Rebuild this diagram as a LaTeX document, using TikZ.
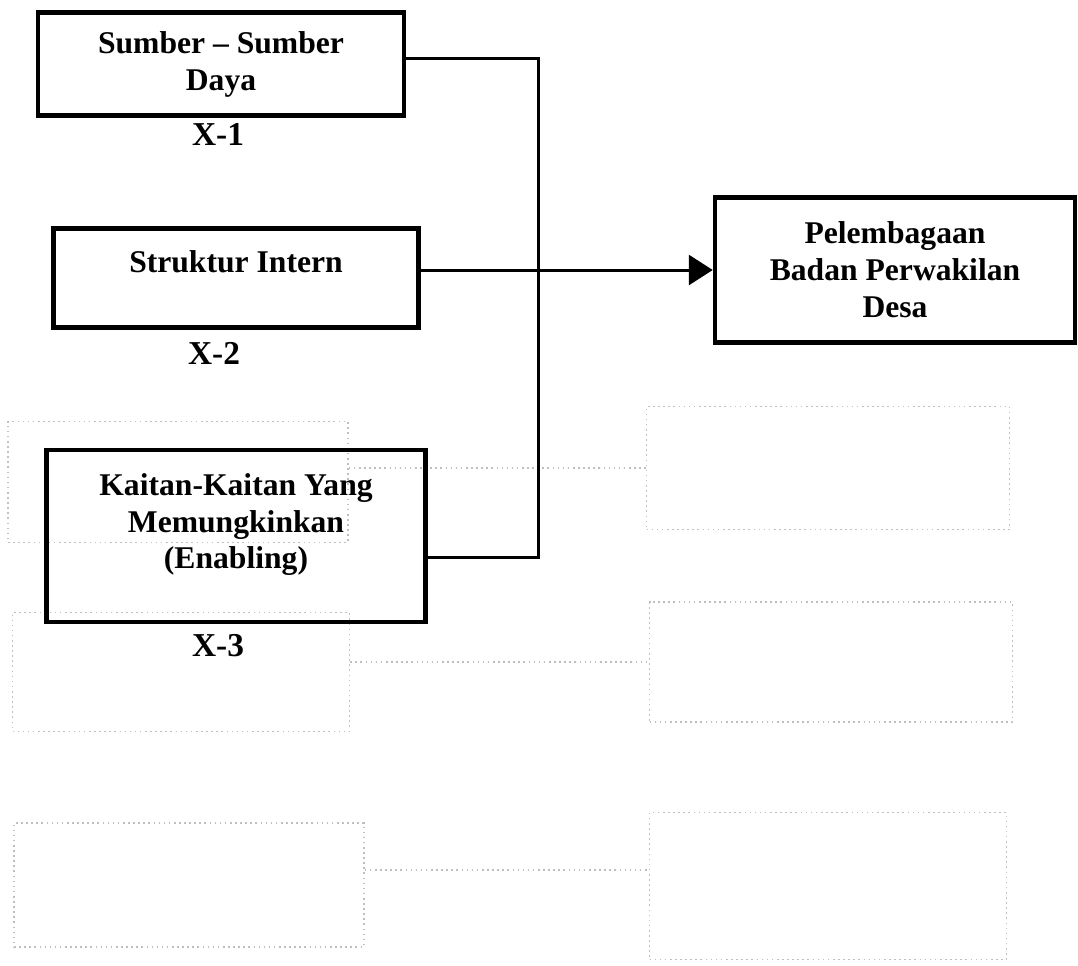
\documentclass[tikz,border=0pt]{standalone}
\usepackage{fontspec}
\setmainfont{Liberation Serif}
\usetikzlibrary{arrows.meta}
\begin{document}
\begin{tikzpicture}[x=0.02cm,y=-0.02cm,
  faktor/.style={draw,line width=2.6pt,align=center,font=\bfseries\fontsize{18}{21}\selectfont,inner sep=0pt},
  kode/.style={font=\bfseries\fontsize{19}{21}\selectfont},
  link/.style={line width=1.7pt},
  ghost/.style={draw=black!25,dotted,line width=0.9pt},
  ghostlink/.style={black!25,dotted,line width=0.9pt}]
  \useasboundingbox (0,0) rectangle (1078,965);
  % bayangan halaman sebalik
  \node[ghost,minimum width=6.8cm,minimum height=2.42cm] (ga) at (178,482) {};
  \node[ghost,minimum width=7.26cm,minimum height=2.46cm] (gc) at (828,468) {};
  \node[ghost,minimum width=6.74cm,minimum height=2.38cm] (gb) at (181,672) {};
  \node[ghost,minimum width=7.26cm,minimum height=2.4cm] (gd) at (831,662) {};
  \node[ghost,minimum width=7.0cm,minimum height=2.48cm] (ge) at (189,885) {};
  \node[ghost,minimum width=7.14cm,minimum height=2.94cm] (gf) at (828,886) {};
  \draw[ghostlink] (gc.west -| ga.east) -- (gc.west);
  \draw[ghostlink] ([yshift=0.2cm]gb.east) -- ([yshift=0.2cm]gb.east -| gd.west);
  \draw[ghostlink] ([yshift=0.3cm]ge.east) -- ([yshift=0.3cm]ge.east -| gf.west);
  % kotak utama
  \node[faktor,minimum width=7.32cm,minimum height=2.06cm] (sumber) at (221,64) {Sumber -- Sumber\\Daya};
  \node[kode] (x1) at (218,134) {X-1};
  \node[faktor,minimum width=7.3cm,minimum height=1.98cm] (struktur) at (236,278) {Struktur Intern\\[-2pt]\mbox{}};
  \node[kode] (x2) at (214,353) {X-2};
  \node[faktor,minimum width=7.58cm,minimum height=3.44cm] (kaitan) at (236,536) {Kaitan-Kaitan Yang\\Memungkinkan\\(Enabling)\\[-4pt]\mbox{}};
  \node[kode] (x3) at (218,646) {X-3};
  \node[faktor,minimum width=7.2cm,minimum height=2.9cm] (bpd) at (895,270) {Pelembagaan\\Badan Perwakilan\\Desa};
  % garis penghubung
  \coordinate (bus) at (538,0);
  \draw[link] ([yshift=0.12cm]sumber.east) -| (bus |- kaitan.east);
  \draw[link] ([yshift=-0.42cm]kaitan.east) -| (bus |- kaitan.east);
  \draw[link,-{Triangle[length=0.48cm,width=0.6cm]}] (struktur.east |- bpd.west) -- (bpd.west);
\end{tikzpicture}
\end{document}
